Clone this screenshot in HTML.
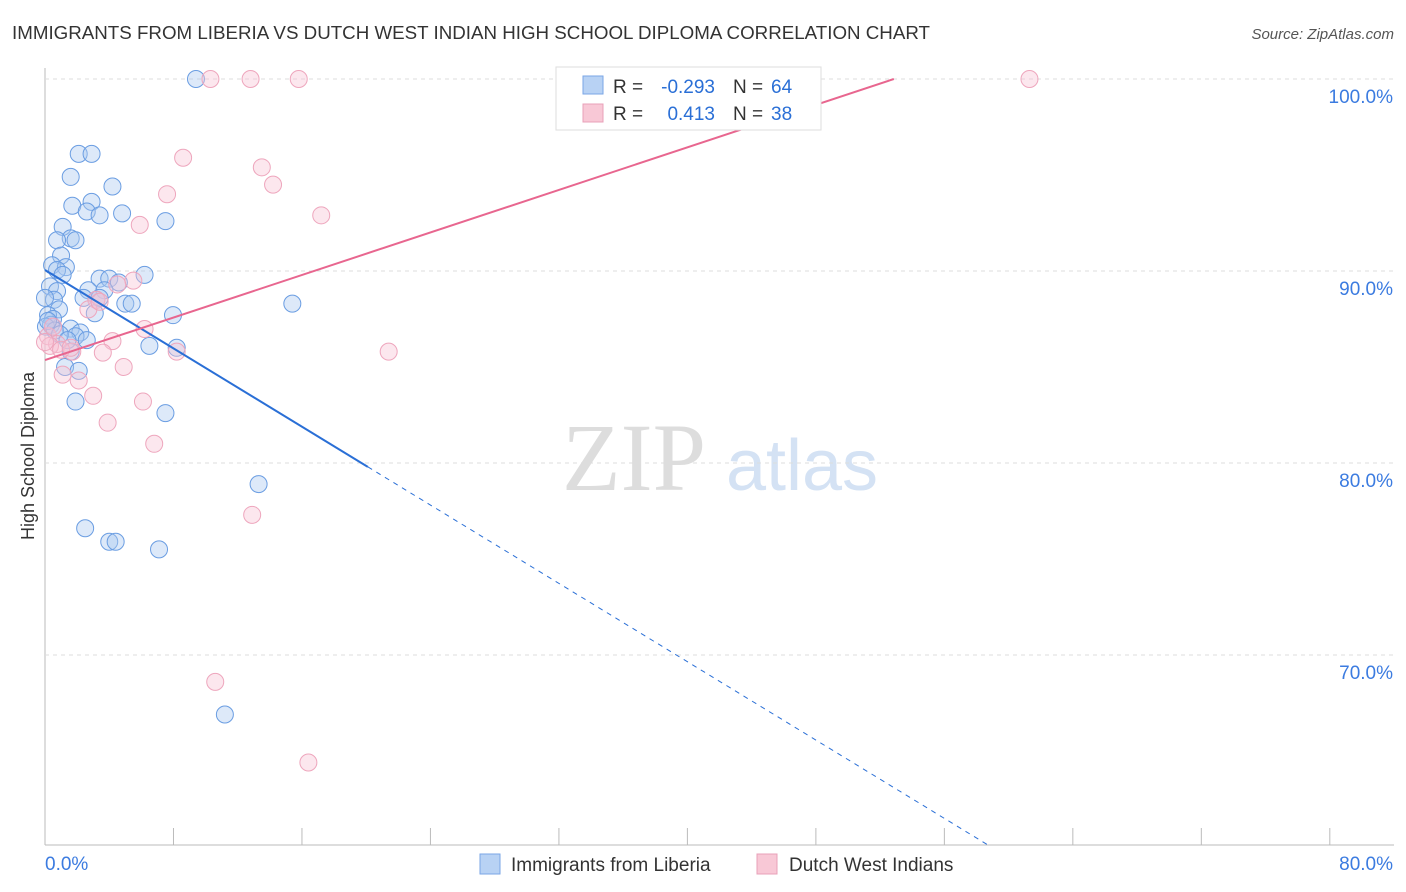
<!DOCTYPE html>
<html><head><meta charset="utf-8"><style>
body{margin:0;background:#fff;font-family:"Liberation Sans",sans-serif;}
#wrap{position:relative;width:1406px;height:892px;overflow:hidden;}
</style></head><body>
<div id="wrap">
<svg id="svg" width="1406" height="892" xmlns="http://www.w3.org/2000/svg">
<text x="12" y="39" font-size="18" fill="#333" textLength="918" lengthAdjust="spacingAndGlyphs">IMMIGRANTS FROM LIBERIA VS DUTCH WEST INDIAN HIGH SCHOOL DIPLOMA CORRELATION CHART</text>
<text x="1394" y="39" font-size="15" fill="#555" font-style="italic" text-anchor="end">Source: ZipAtlas.com</text>
<text x="634" y="490" font-size="96" fill="#ddd" font-family="Liberation Serif,serif" text-anchor="middle">ZIP</text>
<text x="802" y="490" font-size="72" fill="#d4e2f4" text-anchor="middle">atlas</text>
<text transform="translate(34,456) rotate(-90)" font-size="18" fill="#333" text-anchor="middle">High School Diploma</text>
<g id="grid"></g><g id="marks"></g>
<g>
<rect x="556" y="67" width="265" height="63" fill="#fff" stroke="#ddd"/>
<rect x="583" y="76" width="20" height="18" fill="#b8d2f4" stroke="#7aa6e6"/>
<rect x="583" y="104" width="20" height="18" fill="#f8c8d6" stroke="#e8a0b8"/>
<text x="613" y="93" font-size="19" fill="#333">R =</text>
<text x="715" y="93" font-size="19" fill="#2a6fd6" text-anchor="end">-0.293</text>
<text x="733" y="93" font-size="19" fill="#333">N =</text>
<text x="771" y="93" font-size="19" fill="#2a6fd6">64</text>
<text x="613" y="120" font-size="19" fill="#333">R =</text>
<text x="715" y="120" font-size="19" fill="#2a6fd6" text-anchor="end">0.413</text>
<text x="733" y="120" font-size="19" fill="#333">N =</text>
<text x="771" y="120" font-size="19" fill="#2a6fd6">38</text>
</g>
<g>
<rect x="480" y="854" width="20" height="20" fill="#b8d2f4" stroke="#7aa6e6"/>
<text x="511" y="871" font-size="19" fill="#333">Immigrants from Liberia</text>
<rect x="757" y="854" width="20" height="20" fill="#f8c8d6" stroke="#e8a0b8"/>
<text x="789" y="871" font-size="19" fill="#333">Dutch West Indians</text>
</g>
</svg>
</div>
<script>
const yTicks=[100,90,80,70];
const yTickLabels=["100.0%","90.0%","80.0%","70.0%"];
const xTicks=[0,8,16,24,32,40,48,56,64,72,80];
const blueX=[9.4,2.1,2.9,1.6,4.2,1.7,2.9,2.6,3.4,4.8,7.5,1.1,1.6,1.9,0.75,1.0,0.44,1.3,0.75,1.1,6.2,3.4,4.0,4.6,0.31,2.7,3.7,0.75,0.56,2.4,3.2,5.0,5.4,15.4,0.87,3.1,7.97,0.19,0.5,0.37,1.6,0.06,0.62,2.2,1.9,2.6,6.5,8.2,1.6,1.25,2.1,1.9,7.5,13.3,2.5,4.0,4.4,7.1,11.2,0.19,0.93,1.4,0.0,3.4];
const blueY=[100,96.1,96.1,94.9,94.4,93.4,93.6,93.1,92.9,93.0,92.6,92.3,91.7,91.6,91.6,90.8,90.3,90.2,90.05,89.8,89.8,89.6,89.6,89.4,89.2,89.0,89.0,88.95,88.5,88.6,88.5,88.3,88.3,88.3,88.0,87.8,87.7,87.7,87.5,87.2,87.0,87.1,86.9,86.8,86.6,86.4,86.1,86.0,85.8,85.0,84.8,83.2,82.6,78.9,76.6,75.9,75.9,75.5,66.9,87.4,86.7,86.4,88.6,88.6];
const pinkX=[10.3,12.8,15.8,61.3,8.6,13.5,14.2,7.6,17.2,5.9,5.5,4.5,3.2,2.7,6.2,0.19,4.2,0.75,1.7,3.6,8.2,21.4,4.9,1.1,2.1,3.0,6.1,3.9,6.8,12.9,10.6,16.4,0.5,0.31,1.0,1.6,3.4,0.0];
const pinkY=[100,100,100,100,95.9,95.4,94.5,94.0,92.9,92.4,89.5,89.3,88.5,88.0,86.98,86.6,86.35,86.2,85.8,85.75,85.8,85.8,85.0,84.6,84.3,83.5,83.2,82.1,81.0,77.3,68.6,64.4,87.1,86.1,85.9,86.0,88.4,86.3];
const blueLine=[90.05,-0.51];
const pinkLine=[85.36,0.277];
const X=v=>45+v*16.06, Y=v=>79+(100-v)*19.2;
const NS="http://www.w3.org/2000/svg";
function mk(p,t,a){const e=document.createElementNS(NS,t);for(const k in a)e.setAttribute(k,a[k]);p.appendChild(e);return e;}
const g=document.getElementById('grid'), m=document.getElementById('marks');
mk(g,'line',{x1:45,y1:68,x2:45,y2:845,stroke:'#bbb'});
mk(g,'line',{x1:45,y1:845,x2:1394,y2:845,stroke:'#bbb'});
yTicks.forEach((t,i)=>{
 const l=mk(g,'line',{x1:45,y1:Y(t),x2:1394,y2:Y(t),stroke:'#ddd','stroke-dasharray':'4,4'});
 
 
 const tx=mk(g,'text',{x:1393,y:Y(t)+24,'font-size':19,fill:'#3b7be0','text-anchor':'end'});
 tx.textContent=yTickLabels[i];
 
 
});
xTicks.forEach(t=>{
 const l=mk(g,'line',{x1:X(t),y1:828,x2:X(t),y2:845,stroke:'#bbb'});
 
 
});
const xl0=mk(g,'text',{x:45,y:870,'font-size':19,fill:'#3b7be0'});xl0.textContent='0.0%';


const xl1=mk(g,'text',{x:1393,y:870,'font-size':19,fill:'#3b7be0','text-anchor':'end'});xl1.textContent='80.0%';


blueX.forEach((x,i)=>{
 const c=mk(m,'circle',{cx:X(x),cy:Y(blueY[i]),r:8.5,fill:'rgba(170,200,240,0.4)',stroke:'#6a9de2','stroke-width':1});
 
 
});
pinkX.forEach((x,i)=>{
 const c=mk(m,'circle',{cx:X(x),cy:Y(pinkY[i]),r:8.5,fill:'rgba(248,195,212,0.4)',stroke:'#eea6bd','stroke-width':1});
 
 
});
const bl=mk(m,'line',{x1:X(0),y1:Y(blueLine[0]),x2:X(20.1),y2:Y(blueLine[0]+blueLine[1]*20.1),stroke:'#2a6fd6','stroke-width':2});


const xe=(60.1-blueLine[0])/blueLine[1];
const bd=mk(m,'line',{x1:X(20.1),y1:Y(blueLine[0]+blueLine[1]*20.1),x2:X(xe),y2:Y(60.1),stroke:'#2a6fd6','stroke-width':1,'stroke-dasharray':'5,5'});


const pe=(100-pinkLine[0])/pinkLine[1];
const pl=mk(m,'line',{x1:X(0),y1:Y(pinkLine[0]),x2:X(pe),y2:Y(100),stroke:'#e8668f','stroke-width':2});


</script>
</body></html>
